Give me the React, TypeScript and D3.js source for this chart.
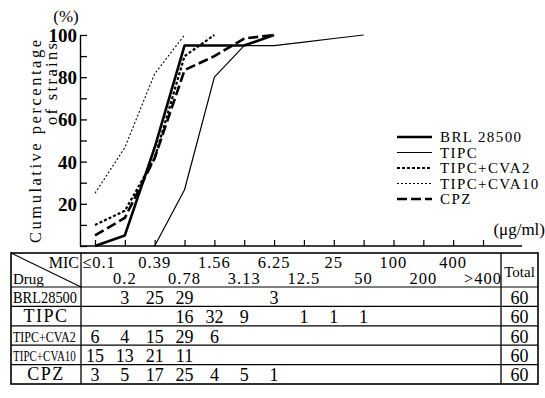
import { useRef, useEffect } from "react";
import * as d3 from "d3";

const mics = ["≤0.1", "0.2", "0.39", "0.78", "1.56", "3.13", "6.25", "12.5", "25", "50", "100", "200", "400", ">400"];
const drugs = ["BRL28500", "TIPC", "TIPC+CVA2", "TIPC+CVA10", "CPZ"];
// number of strains per MIC column (0 = blank cell)
const brl28500 = [0, 3, 25, 29, 0, 0, 3, 0, 0, 0, 0, 0, 0, 0];
const tipc = [0, 0, 0, 16, 32, 9, 0, 1, 1, 1, 0, 0, 0, 0];
const tipcCva2 = [6, 4, 15, 29, 6, 0, 0, 0, 0, 0, 0, 0, 0, 0];
const tipcCva10 = [15, 13, 21, 11, 0, 0, 0, 0, 0, 0, 0, 0, 0, 0];
const cpz = [3, 5, 17, 25, 4, 5, 1, 0, 0, 0, 0, 0, 0, 0];
const totals = [60, 60, 60, 60, 60];
const yTicks = [0, 10, 20, 30, 40, 50, 60, 70, 80, 90, 100];

const counts = [brl28500, tipc, tipcCva2, tipcCva10, cpz];
const styles = [
    { w: 2.6, dash: "" },
    { w: 1.2, dash: "" },
    { w: 2.2, dash: "3,2" },
    { w: 1.1, dash: "2,2" },
    { w: 2.6, dash: "10,4" },
];
// horizontal squeeze of the drug names in the first table column
const labelScale = [0.9, 1, 0.83, 0.76, 1];

const FONT = "'Liberation Serif', 'Times New Roman', 'DejaVu Serif', serif";

const x = d3.scalePoint<string>().domain(mics).range([95, 483]);
const y = d3.scaleLinear().domain([0, 100]).range([246, 35]);

// table geometry
const tLeft = 11, tDrug = 81, tTotal = 501, tRight = 538;
const tTop = 253, tHead = 287, rowH = 19.4;

function series(c: number[], total: number) {
    const cum = Array.from(d3.cumsum(c), v => (v / total) * 100);
    const first = c.findIndex(v => v > 0);
    let last = c.length - 1;
    while (last > 0 && c[last] === 0) last--;
    const start = Math.max(0, first - 1);
    return d3.range(start, last + 1).map(i => ({ m: mics[i], v: cum[i] }));
}

const App = () => {
    const yAxisRef = useRef<SVGGElement>(null);
    const xAxisRef = useRef<SVGGElement>(null);

    useEffect(() => {
        const ya = d3.select(yAxisRef.current!);
        ya.call(
            d3.axisLeft(y)
                .tickValues(yTicks)
                .tickSizeInner(-7)
                .tickSizeOuter(0)
                .tickPadding(3)
                .tickFormat(d => (+d > 0 && +d % 20 === 0 ? String(d) : ""))
        );
        ya.attr("font-family", null).attr("font-size", null);
        ya.select(".domain").attr("stroke-width", 1.4);
        ya.selectAll("line").attr("stroke-width", 1.3);
        ya.selectAll("text")
            .style("font-family", FONT)
            .attr("font-size", 19)
            .attr("font-weight", "bold")
            .attr("fill", "#000")
            .attr("dy", "0.34em");

        const xa = d3.select(xAxisRef.current!);
        xa.call(d3.axisBottom(x).tickSizeInner(-6).tickSizeOuter(0).tickFormat(() => ""));
        xa.select(".domain").remove();
        xa.selectAll("line").attr("stroke-width", 1.2);
    }, []);

    const line = d3.line<{ m: string; v: number }>()
        .x(d => x(d.m)!)
        .y(d => y(d.v));

    const rowY = (i: number) => tHead + i * rowH;

    return (
        <svg width={545} height={398} style={{ position: "absolute", left: 0, top: 0, background: "#fff", fontFamily: FONT }}>
            {/* axis titles */}
            <text x={66} y={22} fontSize={17} textAnchor="middle">(%)</text>
            <text transform="translate(41,243) rotate(-90)" fontSize={16.5} textLength={203} lengthAdjust="spacing">
                Cumulative percentage
            </text>
            <text transform="translate(57,125) rotate(-90)" fontSize={16.5} textLength={82} lengthAdjust="spacing">
                of strains
            </text>

            <g ref={yAxisRef} transform="translate(80,0)" />
            <line x1={80} x2={522} y1={y(0)} y2={y(0)} stroke="#000" strokeWidth={1.4} />
            <g ref={xAxisRef} transform={`translate(0,${y(0)})`} />
            <text x={545} y={235} fontSize={17} textAnchor="end">(μg/ml)</text>

            {/* lines */}
            {counts.map((c, i) => (
                <path key={drugs[i]} d={line(series(c, totals[i]))!} fill="none" stroke="#000"
                    strokeWidth={styles[i].w} strokeDasharray={styles[i].dash} strokeLinejoin="round" />
            ))}

            {/* legend */}
            {drugs.map((dname, i) => {
                const ly = 137 + i * 15.5;
                return (
                    <g key={dname}>
                        <line x1={397} x2={432} y1={ly} y2={ly} stroke="#000"
                            strokeWidth={styles[i].w} strokeDasharray={styles[i].dash} />
                        <text x={440} y={ly + 5} fontSize={15} letterSpacing={1.4}>
                            {dname === "BRL28500" ? "BRL 28500" : dname}
                        </text>
                    </g>
                );
            })}

            {/* table */}
            <g stroke="#000" fill="none">
                <rect x={tLeft} y={tTop} width={tRight - tLeft} height={tHead + rowH * 5 - tTop} strokeWidth={1.6} />
                <line x1={tDrug} x2={tDrug} y1={tTop} y2={tHead + rowH * 5} strokeWidth={1.3} />
                <line x1={tTotal} x2={tTotal} y1={tTop} y2={tHead + rowH * 5} strokeWidth={1.3} />
                <line x1={tLeft} x2={tDrug} y1={tTop} y2={tHead} strokeWidth={1.1} />
                {d3.range(0, 5).map(i => (
                    <line key={i} x1={tLeft} x2={tRight} y1={rowY(i)} y2={rowY(i)} strokeWidth={1.2} />
                ))}
            </g>
            <text x={79} y={268} fontSize={16} textAnchor="end">MIC</text>
            <text x={13} y={284} fontSize={15}>Drug</text>
            <text x={519.5} y={277} fontSize={15} textAnchor="middle">Total</text>
            {mics.map((m, i) => (
                <text key={m} x={x(m)! + (i === 0 ? 4 : 0)} y={i % 2 === 0 ? 268 : 284} fontSize={16.5}
                    textAnchor="middle" letterSpacing={1}>{m}</text>
            ))}
            {drugs.map((dname, r) => {
                const cy = rowY(r) + rowH / 2 + 6;
                const long = dname.length > 5;
                return (
                    <g key={dname}>
                        {long ? (
                            <text transform={`translate(13,${cy}) scale(${labelScale[r]},1)`}
                                fontSize={dname === "BRL28500" ? 16 : 14.5}>{dname}</text>
                        ) : (
                            <text x={46} y={cy} fontSize={18} textAnchor="middle" letterSpacing={1.5}>{dname}</text>
                        )}
                        {counts[r].map((v, i) => v > 0 ? (
                            <text key={i} x={x(mics[i])} y={cy + 1} fontSize={18} textAnchor="middle">{v}</text>
                        ) : null)}
                        <text x={519.5} y={cy + 1} fontSize={18} textAnchor="middle">{totals[r]}</text>
                    </g>
                );
            })}
        </svg>
    );
};

export default App;
